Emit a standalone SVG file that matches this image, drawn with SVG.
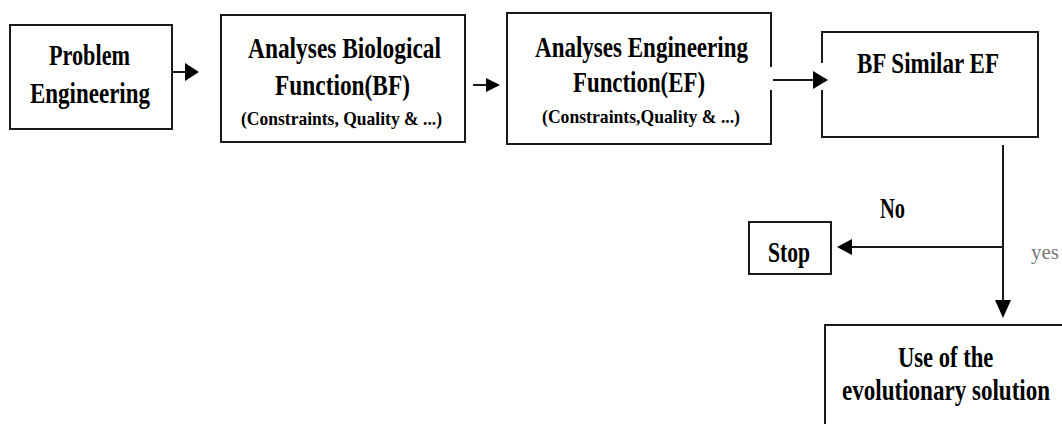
<svg xmlns="http://www.w3.org/2000/svg" width="1062" height="424" viewBox="0 0 1062 424">
<defs>
<style>
.box{fill:#fff;stroke:#1a1a1a;stroke-width:2}
.edge{fill:none;stroke:#1a1a1a;stroke-width:2}
.line{fill:none;stroke:#1a1a1a;stroke-width:2}
.head{fill:#000;stroke:none}
.t{font-family:"Liberation Serif","Times New Roman",serif;font-weight:bold;font-size:30px;fill:#000}
.s{font-family:"Liberation Serif","Times New Roman",serif;font-weight:bold;font-size:19px;fill:#000}
.y{font-family:"Liberation Serif","Times New Roman",serif;font-size:22px;fill:#777}
</style>
</defs>
<rect width="1062" height="424" fill="#fff"/>
<g id="connectors">
<line class="line" x1="172" y1="72" x2="186" y2="72"/>
<polygon class="head" points="185,63 199,72 185,81"/>
<line class="line" x1="473" y1="85" x2="487" y2="85"/>
<polygon class="head" points="486,78 500,85 486,92"/>
<line class="line" x1="773" y1="80" x2="814" y2="80"/>
<polygon class="head" points="813,71 828,80 813,89"/>
<line class="line" x1="1003" y1="145" x2="1003" y2="301"/>
<polygon class="head" points="995,300 1011,300 1003,318"/>
<line class="line" x1="1003" y1="247" x2="851" y2="247"/>
<polygon class="head" points="852,239 852,255 837,247"/>
<text class="t" x="880" y="218" textLength="25" lengthAdjust="spacingAndGlyphs">No</text>
<text class="y" x="1031" y="259" textLength="28" lengthAdjust="spacingAndGlyphs">yes</text>
</g>
<g id="problem">
<rect class="box" x="10" y="25" width="162" height="104"/>
<text class="t" x="49" y="65" textLength="81" lengthAdjust="spacingAndGlyphs">Problem</text>
<text class="t" x="30" y="103" textLength="120" lengthAdjust="spacingAndGlyphs">Engineering</text>
</g>
<g id="bio">
<rect class="box" x="221" y="15" width="244" height="127"/>
<text class="t" x="248" y="58" textLength="193" lengthAdjust="spacingAndGlyphs">Analyses Biological</text>
<text class="t" x="275" y="95" textLength="135" lengthAdjust="spacingAndGlyphs">Function(BF)</text>
<text class="s" x="241" y="125" textLength="201" lengthAdjust="spacingAndGlyphs">(Constraints, Quality &amp; ...)</text>
</g>
<g id="eng">
<path class="edge" d="M771,67 V13 H507 V144 H771 V90"/>
<text class="t" x="535" y="57" textLength="213" lengthAdjust="spacingAndGlyphs">Analyses Engineering</text>
<text class="t" x="573" y="92" textLength="132" lengthAdjust="spacingAndGlyphs">Function(EF)</text>
<text class="s" x="542" y="123" textLength="198" lengthAdjust="spacingAndGlyphs">(Constraints,Quality &amp; ...)</text>
</g>
<g id="similar">
<path class="edge" d="M822,63 V32 H1038 V137 H822 V90"/>
<text class="t" x="857" y="73" textLength="142" lengthAdjust="spacingAndGlyphs">BF Similar EF</text>
</g>
<g id="stop">
<rect class="box" x="749" y="222" width="82" height="52"/>
<text class="t" x="768" y="262" textLength="42" lengthAdjust="spacingAndGlyphs">Stop</text>
</g>
<g id="use">
<path class="edge" d="M825,430 V325 H1070"/>
<text class="t" transform="translate(898,367) scale(0.75,1)" x="0" y="0" textLength="127" lengthAdjust="spacingAndGlyphs">Use of the</text>
<text class="t" transform="translate(842,400) scale(0.768,1)" x="0" y="0" textLength="271" lengthAdjust="spacingAndGlyphs">evolutionary solution</text>
</g>
</svg>
